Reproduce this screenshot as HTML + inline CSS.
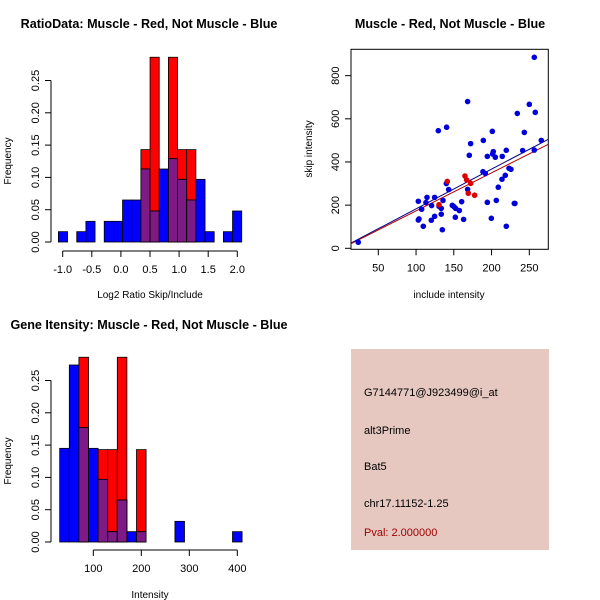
<!DOCTYPE html>
<html><head><meta charset="utf-8"><style>
body{margin:0;background:#fff}
svg{display:block;font-family:"Liberation Sans",sans-serif}
</style></head><body>
<svg id="c" width="600" height="600" xmlns="http://www.w3.org/2000/svg"></svg>
<script>
// ---------- Data ----------
const ratioBinStart = -1.074;
const ratioBinWidth = 0.1575;
const ratioBlue = [0.016,0,0.016,0.032,0,0.032,0.032,0.065,0.065,0.113,0.048,0.113,0.129,0.097,0.065,0.097,0.016,0,0.016,0.048];
const ratioRed  = [0,0,0,0,0,0,0,0,0,0.143,0.286,0,0.286,0.143,0.143,0,0,0,0,0];
const ratioXTicks = [-1.0,-0.5,0.0,0.5,1.0,1.5,2.0];
const freqTicks = [0.00,0.05,0.10,0.15,0.20,0.25];

const intBinStart = 30;
const intBinWidth = 20;
const intBlue = [0.145,0.274,0.177,0.145,0.097,0.016,0.065,0.016,0.016,0,0,0,0.032,0,0,0,0,0,0.016];
const intRed  = [0,0,0.286,0,0.143,0.143,0.286,0,0.143,0,0,0,0,0,0,0,0,0,0];
const intXTicks = [100,200,300,400];

const blueX = [23.5,103,103.9,103,107.4,109.6,113.1,114.5,120.6,120.2,124.6,124.6,129.5,130.4,133.4,133.4,134.8,135.7,140.5,140.1,143.2,148,150.2,152.4,152,157.3,160.4,163,168.3,168.3,170.5,172.3,189.1,188.6,191.7,194.4,194.4,199.7,201,201.4,202.3,205,206.3,208.9,213.8,214.2,218.2,219.5,219.5,223.1,225.7,230.1,234.1,241.2,243.4,250,256.6,257.9,256.6,265.9,231];
const blueY = [28,218,136,131,181,102,212,236,198,130,236,148,545,195,185,158,86,222,561,300,272,199,193,185,144,175,216,134,680,273,431,485,500,355,347,426,213,139,542,437,448,422,222,283,320,426,338,454,102,371,366,208,625,453,537,667,885,630,455,500,208];
const redX = [130.4,141.4,164.8,167,169.2,172.3,177.6];
const redY = [202,310,335,317,255,301,246];
const blueLine = {intercept:-1.0, slope:1.839};
const redLine = {intercept:-2.9, slope:1.762};
const scXTicks = [50,100,150,200,250];
const scYTicks = [0,200,400,600,800];

// ---------- Helpers ----------
const svg = document.getElementById('c');
const NS = 'http://www.w3.org/2000/svg';
function mk(tag, attrs, parent){const e=document.createElementNS(NS,tag);for(const k in attrs)e.setAttribute(k,attrs[k]);(parent||svg).appendChild(e);return e;}
function txt(x,y,s,size,opts){const e=mk('text',Object.assign({x:x,y:y,'font-size':size,'text-anchor':'middle',fill:'#000'},opts||{}));e.textContent=s;return e;}
function fmt2(v){return v.toFixed(2);}

function histogram(g, cfg){
  const xs = v => cfg.x0 + (v - cfg.d0) * cfg.sx;
  const ys = v => cfg.y0 - v * cfg.sy;
  for(let i=0;i<cfg.blue.length;i++){
    const l = cfg.start + i*cfg.width, r = l + cfg.width;
    const b = cfg.blue[i], rd = cfg.red[i];
    const X = xs(l), W = xs(r)-xs(l);
    if(rd>0){const e=mk('rect',{x:X,y:ys(rd),width:W,height:ys(0)-ys(rd),fill:'#ff0000',stroke:'#000','stroke-width':0.8},g);
      
      }
    if(b>0){const e=mk('rect',{x:X,y:ys(b),width:W,height:ys(0)-ys(b),fill:'#0000ff',stroke:'#000','stroke-width':0.8},g);
      
      }
    const m=Math.min(b,rd);
    if(m>0){const e=mk('rect',{x:X,y:ys(m),width:W,height:ys(0)-ys(m),fill:'#7d1a86',stroke:'#000','stroke-width':0.8},g);
      
      }
  }
  const ya = mk('g',{},g);
  
  
  mk('line',{x1:cfg.yAxisX,x2:cfg.yAxisX,y1:ys(freqTicks[0]),y2:ys(freqTicks[freqTicks.length-1]),stroke:'#000'},ya);
  freqTicks.forEach(t=>{
    mk('line',{x1:cfg.yAxisX-6,x2:cfg.yAxisX,y1:ys(t),y2:ys(t),stroke:'#000'},ya);
    const e=txt(cfg.yAxisX-12,ys(t),fmt2(t),11,{transform:`rotate(-90 ${cfg.yAxisX-12} ${ys(t)})`});
    
    
    ya.appendChild(e);
  });
  const xa = mk('g',{},g);
  
  
  const t0=cfg.xticks[0], t1=cfg.xticks[cfg.xticks.length-1];
  mk('line',{x1:xs(t0),x2:xs(t1),y1:cfg.xAxisY,y2:cfg.xAxisY,stroke:'#000'},xa);
  cfg.xticks.forEach(t=>{
    mk('line',{x1:xs(t),x2:xs(t),y1:cfg.xAxisY,y2:cfg.xAxisY+6,stroke:'#000'},xa);
    const e=txt(xs(t),cfg.xAxisY+22,cfg.xfmt(t),11);
    
    
    xa.appendChild(e);
  });
}

// ---------- Panel 1 ----------
const g1 = mk('g',{});


let e;
e=txt(149,28,'RatioData: Muscle - Red, Not Muscle - Blue',12.6,{'font-weight':'bold'});


histogram(g1,{x0:62.7,d0:-1.0,sx:58.2,y0:242,sy:646,start:ratioBinStart,width:ratioBinWidth,blue:ratioBlue,red:ratioRed,yAxisX:51,xAxisY:251,xticks:ratioXTicks,xfmt:v=>v.toFixed(1)});
e=txt(150,298,'Log2 Ratio Skip/Include',10);


e=txt(11,161,'Frequency',10,{transform:'rotate(-90 11 161)'});



// ---------- Panel 2 ----------
const g2 = mk('g',{});


e=txt(149,329,'Gene Itensity: Muscle - Red, Not Muscle - Blue',12.6,{'font-weight':'bold'});


histogram(g2,{x0:93.3,d0:100,sx:0.48,y0:542,sy:646,start:intBinStart,width:intBinWidth,blue:intBlue,red:intRed,yAxisX:51,xAxisY:550,xticks:intXTicks,xfmt:v=>String(v)});
e=txt(150,598,'Intensity',10);


e=txt(11,461,'Frequency',10,{transform:'rotate(-90 11 461)'});



// ---------- Panel 3 scatter ----------
const g3 = mk('g',{});


e=txt(450,28,'Muscle - Red, Not Muscle - Blue',12.6,{'font-weight':'bold'});


const L=351,R=548.3,T=49.3,B=249.3;
const sx = v => 378.3 + (v-50)*0.755;
const sy = v => 248.3 - v*0.2158;
const fr=mk('rect',{x:L,y:T,width:R-L,height:B-T,fill:'none',stroke:'#000'},g3);


scXTicks.forEach(t=>{
  mk('line',{x1:sx(t),x2:sx(t),y1:B,y2:B+6,stroke:'#000'},g3);
  const e=txt(sx(t),B+22,String(t),11);
  
  
  g3.appendChild(e);
});
scYTicks.forEach(t=>{
  mk('line',{x1:L-6,x2:L,y1:sy(t),y2:sy(t),stroke:'#000'},g3);
  const e=txt(L-12,sy(t),String(t),11,{transform:`rotate(-90 ${L-12} ${sy(t)})`});
  
  
  g3.appendChild(e);
});
const cp=mk('clipPath',{id:'clp'},g3);
mk('rect',{x:L,y:T,width:R-L,height:B-T},cp);
const xl0=(L-378.3)/0.755+50, xl1=(R-378.3)/0.755+50;
[[blueLine,'#00008b','blue-regression-line'],[redLine,'#b00000','red-regression-line']].forEach(([ln,c,n])=>{
  const e=mk('line',{x1:sx(xl0),y1:sy(ln.intercept+ln.slope*xl0),x2:sx(xl1),y2:sy(ln.intercept+ln.slope*xl1),stroke:c,'stroke-width':1,'clip-path':'url(#clp)'},g3);
  
  
});
blueX.forEach((x,i)=>{
  const e=mk('circle',{cx:sx(x),cy:sy(blueY[i]),r:2.8,fill:'#0000dd'},g3);
  
  
});
redX.forEach((x,i)=>{
  const e=mk('circle',{cx:sx(x),cy:sy(redY[i]),r:2.8,fill:'#dd0000'},g3);
  
  
});
e=txt(449,298,'include intensity',10);


e=txt(312,149,'skip intensity',10,{transform:'rotate(-90 312 149)'});



// ---------- Panel 4 info box ----------
const g4 = mk('g',{});


mk('rect',{x:351,y:349,width:198,height:201,fill:'#e6c8c1'},g4);
[['G7144771@J923499@i_at',396,'#000','probe-id'],['alt3Prime',434,'#000','event-type'],['Bat5',470,'#000','gene-name'],['chr17.11152-1.25',507,'#000','location'],['Pval: 2.000000',536,'#a00000','p-value']].forEach(([s,y,c,n])=>{
  const e=txt(364,y,s,11,{'text-anchor':'start',fill:c});
  
  
  g4.appendChild(e);
});
</script>
</body></html>
